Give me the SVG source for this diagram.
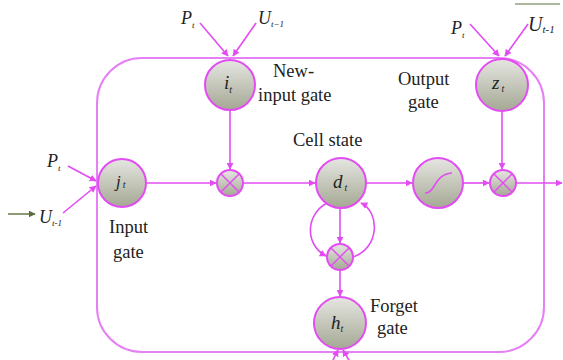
<svg xmlns="http://www.w3.org/2000/svg" width="563" height="360" viewBox="0 0 563 360">
<defs>
<linearGradient id="g" x1="0" y1="0" x2="0" y2="1">
<stop offset="0" stop-color="#e6e6e2"/>
<stop offset="1" stop-color="#a4a893"/>
</linearGradient>
<marker id="a" viewBox="0 0 10 10" refX="9" refY="5" markerWidth="7" markerHeight="7" markerUnits="userSpaceOnUse" orient="auto">
<path d="M0,0 L10,5 L0,10 z" fill="#e24cf2"/>
</marker>
<marker id="ag" viewBox="0 0 10 10" refX="9" refY="5" markerWidth="7" markerHeight="7" markerUnits="userSpaceOnUse" orient="auto">
<path d="M0,0 L10,5 L0,10 z" fill="#5a6e3a"/>
</marker>
</defs>
<style>
.n{fill:url(#g);stroke:#e24cf2;stroke-width:2}
.c{fill:none;stroke:#e24cf2;stroke-width:1.6}
.c2{fill:none;stroke:#e24cf2;stroke-width:1.6;marker-end:url(#a)}
.t{font-size:18.5px;fill:#222}
.v{font-style:italic;fill:#222}
.x{stroke:#e24cf2;stroke-width:1.4}
</style>
<rect x="97" y="58" width="447" height="294" rx="45" ry="45" fill="none" stroke="#e680f5" stroke-width="2"/>
<g id="connectors">
<line class="c2" x1="200" y1="23" x2="228" y2="56"/>
<line class="c2" x1="256" y1="23" x2="233" y2="56"/>
<line class="c2" x1="470" y1="24" x2="499" y2="56"/>
<line class="c2" x1="528" y1="24" x2="505" y2="56"/>
<line class="c2" x1="68" y1="166" x2="96" y2="181"/>
<line class="c2" x1="63" y1="213" x2="96" y2="186"/>
<line x1="8" y1="214" x2="35" y2="214" stroke="#5a6e3a" stroke-width="1.4" marker-end="url(#ag)"/>
<line class="c2" x1="147" y1="183" x2="216" y2="183"/>
<line class="c2" x1="230" y1="110" x2="230" y2="169"/>
<line class="c2" x1="243" y1="183" x2="315" y2="183"/>
<line class="c2" x1="366" y1="183" x2="412" y2="183"/>
<line class="c2" x1="463" y1="183" x2="489" y2="183"/>
<line class="c2" x1="502" y1="111" x2="502" y2="169"/>
<line class="c2" x1="516" y1="183" x2="562" y2="183"/>
<line class="c2" x1="340" y1="208" x2="340" y2="243"/>
<line class="c2" x1="340" y1="270" x2="340" y2="296"/>
<path class="c2" d="M327,203 C305,215 305,245 326,256"/>
<path class="c2" d="M353,257 C380,248 380,212 361,203"/>
<line class="c2" x1="332" y1="362" x2="338" y2="350"/>
<line class="c2" x1="350" y1="362" x2="343" y2="350"/>
</g>
<g font-family="'Liberation Serif', 'Times New Roman', 'DejaVu Serif', serif">
<g id="i_t">
<circle class="n" cx="230" cy="85" r="25"/>
<text class="v" x="224" y="89" font-size="19">i<tspan font-size="10" dy="4">t</tspan></text>
</g>
<g id="z_t">
<circle class="n" cx="502" cy="85" r="26"/>
<text class="v" x="492" y="89" font-size="19">z<tspan font-size="10" dy="3" dx="2">t</tspan></text>
</g>
<g id="j_t">
<circle class="n" cx="122" cy="183" r="24"/>
<text class="v" x="116" y="187" font-size="17">j<tspan font-size="10" dy="1" dx="2">t</tspan></text>
</g>
<g id="mult1">
<circle class="n" cx="230" cy="183" r="13"/>
<line class="x" x1="221" y1="174" x2="239" y2="192"/>
<line class="x" x1="239" y1="174" x2="221" y2="192"/>
</g>
<g id="d_t">
<circle class="n" cx="341" cy="183" r="25"/>
<text class="v" x="333" y="188" font-size="19">d<tspan font-size="10" dy="3" dx="2">t</tspan></text>
</g>
<g id="sigmoid">
<circle class="n" cx="438" cy="183" r="25"/>
<path class="c" d="M425,193 C436,193 434,174 452,173"/>
</g>
<g id="mult2">
<circle class="n" cx="503" cy="183" r="13"/>
<line class="x" x1="494" y1="174" x2="512" y2="192"/>
<line class="x" x1="512" y1="174" x2="494" y2="192"/>
</g>
<g id="mult3">
<circle class="n" cx="340" cy="257" r="13"/>
<line class="x" x1="331" y1="248" x2="349" y2="266"/>
<line class="x" x1="349" y1="248" x2="331" y2="266"/>
</g>
<g id="h_t">
<circle class="n" cx="340" cy="323" r="26"/>
<text class="v" x="331" y="329" font-size="19">h<tspan font-size="10" dy="3">t</tspan></text>
</g>
<g id="labels">
<text class="v" x="181" y="24" font-size="18">P<tspan font-size="9" dy="4">t</tspan></text>
<text class="v" x="258" y="24" font-size="18">U<tspan font-size="9" dy="3">t−1</tspan></text>
<text class="v" x="451" y="34" font-size="18">P<tspan font-size="9" dy="4">t</tspan></text>
<text class="v" x="528" y="31" font-size="20">U<tspan font-size="11" dy="2">t-1</tspan></text>
<line x1="515" y1="4" x2="560" y2="4" stroke="#5a6e3a" stroke-width="1"/>
<text class="v" x="47" y="167" font-size="18">P<tspan font-size="9" dy="4">t</tspan></text>
<text class="v" x="39" y="223" font-size="18">U<tspan font-size="9" dy="3">t-1</tspan></text>
<text class="t" x="273" y="77">New-</text>
<text class="t" x="258" y="101">input gate</text>
<text class="t" x="398" y="85">Output</text>
<text class="t" x="408" y="108">gate</text>
<text class="t" x="293" y="146">Cell state</text>
<text class="t" x="109" y="233">Input</text>
<text class="t" x="113" y="258">gate</text>
<text class="t" x="370" y="312">Forget</text>
<text class="t" x="377" y="334">gate</text>
</g>
</g>
</svg>
